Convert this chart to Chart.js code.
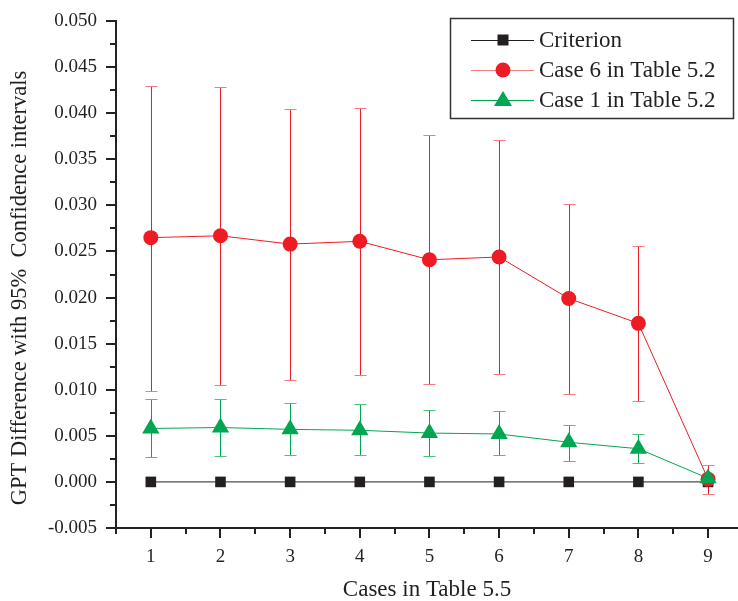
<!DOCTYPE html>
<html>
<head>
<meta charset="utf-8">
<script src="https://cdn.jsdelivr.net/npm/chart.js@4/dist/chart.umd.min.js"></script>
<style>
  html, body { margin: 0; padding: 0; background: #fff; }
  #wrap { width: 738px; height: 601px; position: relative; }
</style>
</head>
<body>
<div id="wrap"><canvas id="chart"></canvas></div>
<script>
/* ---- data ---- */
const cases = [1, 2, 3, 4, 5, 6, 7, 8, 9];
const criterion = [0, 0, 0, 0, 0, 0, 0, 0, 0];
const case6 = [0.0265, 0.0267, 0.0258, 0.0261, 0.0241, 0.0244, 0.0199, 0.0172, 0.0003];
const case6Upper = [0.0430, 0.0428, 0.0404, 0.0406, 0.0376, 0.0371, 0.0302, 0.0256, 0.0018];
const case6Lower = [0.0099, 0.0105, 0.0111, 0.0116, 0.0106, 0.0117, 0.0095, 0.0088, -0.0013];
const case1 = [0.0058, 0.0059, 0.0057, 0.0056, 0.0053, 0.0052, 0.0043, 0.0036, 0.0004];
const case1Upper = [0.0090, 0.0090, 0.0086, 0.0084, 0.0078, 0.0077, 0.0062, 0.0052, 0.0007];
const case1Lower = [0.0027, 0.0028, 0.0029, 0.0029, 0.0028, 0.0029, 0.0023, 0.0020, 0.0001];
const yTicks = [-0.005, 0, 0.005, 0.010, 0.015, 0.020, 0.025, 0.030, 0.035, 0.040, 0.045, 0.050];
const legendLabels = ['Criterion', 'Case 6 in Table 5.2', 'Case 1 in Table 5.2'];
const xTitle = 'Cases in Table 5.5';
const yTitle = 'GPT Difference with 95%  Confidence intervals';

const FONT = "'Liberation Serif', 'DejaVu Serif', serif";
const BLACK = '#231f20', RED = '#ed1c24', GREEN = '#00a651', TEXT = '#231f20';

const pts = (ys) => cases.map((x, i) => ({ x, y: ys[i] }));

/* ---- error bars through the chart scales ---- */
const errorBars = {
  id: 'errorBars',
  beforeDatasetsDraw(chart) {
    const { ctx, scales: { x, y } } = chart;
    const sets = [
      { up: case6Upper, lo: case6Lower, color: RED, cap: '#f37a80' },
      { up: case1Upper, lo: case1Lower, color: GREEN, cap: '#4cc27f' },
    ];
    ctx.save();
    ctx.lineWidth = 1;
    sets.forEach(s => {
      cases.forEach((c, i) => {
        const px = Math.round(x.getPixelForValue(c)) + 0.5;
        const yu = Math.round(y.getPixelForValue(s.up[i])) + 0.5;
        const yl = Math.round(y.getPixelForValue(s.lo[i])) + 0.5;
        ctx.strokeStyle = s.color;
        ctx.beginPath(); ctx.moveTo(px, yu); ctx.lineTo(px, yl); ctx.stroke();
        ctx.strokeStyle = s.cap;
        ctx.beginPath();
        ctx.moveTo(px - 6, yu); ctx.lineTo(px + 6, yu);
        ctx.moveTo(px - 6, yl); ctx.lineTo(px + 6, yl);
        ctx.stroke();
      });
    });
    ctx.restore();
  }
};

/* ---- major/minor tick marks (outward) and axis titles ---- */
const axisDecor = {
  id: 'axisDecor',
  afterDraw(chart) {
    const { ctx, chartArea: a, scales: { x, y } } = chart;
    ctx.save();
    ctx.strokeStyle = '#222';
    ctx.lineWidth = 2;
    ctx.beginPath();
    for (let v = -0.005; v <= 0.0501; v += 0.0025) {
      const major = Math.abs(Math.round(v / 0.005) * 0.005 - v) < 1e-6;
      const py = Math.round(y.getPixelForValue(v));
      ctx.moveTo(a.left, py); ctx.lineTo(a.left - (major ? 10 : 6), py);
    }
    for (let v = 0.5; v <= 9.5; v += 0.5) {
      const px = x.getPixelForValue(v);
      if (px > a.right) break;
      const major = Number.isInteger(v);
      ctx.moveTo(Math.round(px), a.bottom); ctx.lineTo(Math.round(px), a.bottom + (major ? 10 : 6));
    }
    ctx.stroke();

    ctx.fillStyle = TEXT;
    ctx.font = '23px ' + FONT;
    ctx.textAlign = 'center';
    ctx.textBaseline = 'middle';
    ctx.fillText(xTitle, 427, 590);
    ctx.translate(20, 288);
    ctx.rotate(-Math.PI / 2);
    ctx.font = '22.5px ' + FONT;
    ctx.fillText(yTitle, 0, 0);
    ctx.restore();
  }
};

/* ---- boxed legend inside the plot ---- */
const boxLegend = {
  id: 'boxLegend',
  afterDraw(chart) {
    const { ctx } = chart;
    ctx.save();
    ctx.strokeStyle = '#333';
    ctx.lineWidth = 1.5;
    ctx.strokeRect(450.5, 18.5, 283, 100);
    const rows = [
      { color: BLACK, line: BLACK, shape: 'rect' },
      { color: RED, line: '#f08080', shape: 'circle' },
      { color: GREEN, line: GREEN, shape: 'triangle' },
    ];
    rows.forEach((r, i) => {
      const cy = 40 + i * 30;
      ctx.strokeStyle = r.line;
      ctx.lineWidth = 1;
      ctx.beginPath(); ctx.moveTo(471, cy + 0.5); ctx.lineTo(534, cy + 0.5); ctx.stroke();
      ctx.fillStyle = r.color;
      ctx.beginPath();
      if (r.shape === 'rect') ctx.rect(503 - 5.5, cy - 5.5, 11, 11);
      else if (r.shape === 'circle') ctx.arc(503, cy, 7.5, 0, Math.PI * 2);
      else { ctx.moveTo(503, cy - 9); ctx.lineTo(512, cy + 6); ctx.lineTo(494, cy + 6); ctx.closePath(); }
      ctx.fill();
      ctx.fillStyle = TEXT;
      ctx.font = '23px ' + FONT;
      ctx.textBaseline = 'middle';
      ctx.fillText(legendLabels[i], 539, cy + 1);
    });
    ctx.restore();
  }
};

new Chart(document.getElementById('chart'), {
  type: 'line',
  data: {
    datasets: [
      { label: legendLabels[0], data: pts(criterion), borderColor: BLACK, backgroundColor: BLACK,
        pointStyle: 'rect', pointRadius: 7.5, borderWidth: 1, pointBorderWidth: 0, order: 3 },
      { label: legendLabels[1], data: pts(case6), borderColor: RED, backgroundColor: RED,
        pointStyle: 'circle', pointRadius: 7.5, borderWidth: 1, pointBorderWidth: 0, order: 2 },
      { label: legendLabels[2], data: pts(case1), borderColor: GREEN, backgroundColor: GREEN,
        pointStyle: 'triangle', pointRadius: 10, borderWidth: 1, pointBorderWidth: 0, order: 1 },
    ],
  },
  options: {
    responsive: true,
    maintainAspectRatio: false,
    animation: false,
    layout: { autoPadding: false, padding: { top: 21, right: 0, left: 0, bottom: 0 } },
    plugins: { legend: { display: false }, tooltip: { enabled: false } },
    scales: {
      x: {
        type: 'linear',
        min: 0.5,
        max: 9.43,
        afterFit: (s) => { s.height = 73; s.paddingLeft = 0; s.paddingRight = 0; },
        afterBuildTicks: (s) => { s.ticks = cases.map(v => ({ value: v })); },
        grid: { display: false },
        border: { display: true, color: '#222', width: 2 },
        ticks: { color: TEXT, padding: 10, font: { family: FONT, size: 19 } },
      },
      y: {
        min: -0.005,
        max: 0.050,
        afterFit: (s) => { s.width = 116; s.paddingTop = 0; s.paddingBottom = 0; },
        afterBuildTicks: (s) => { s.ticks = yTicks.map(v => ({ value: v })); },
        grid: { display: false },
        border: { display: true, color: '#222', width: 2 },
        ticks: { color: TEXT, padding: 11, font: { family: FONT, size: 19 },
                 callback: (v) => v.toFixed(3) },
      },
    },
  },
  plugins: [errorBars, axisDecor, boxLegend],
});
</script>
</body>
</html>
